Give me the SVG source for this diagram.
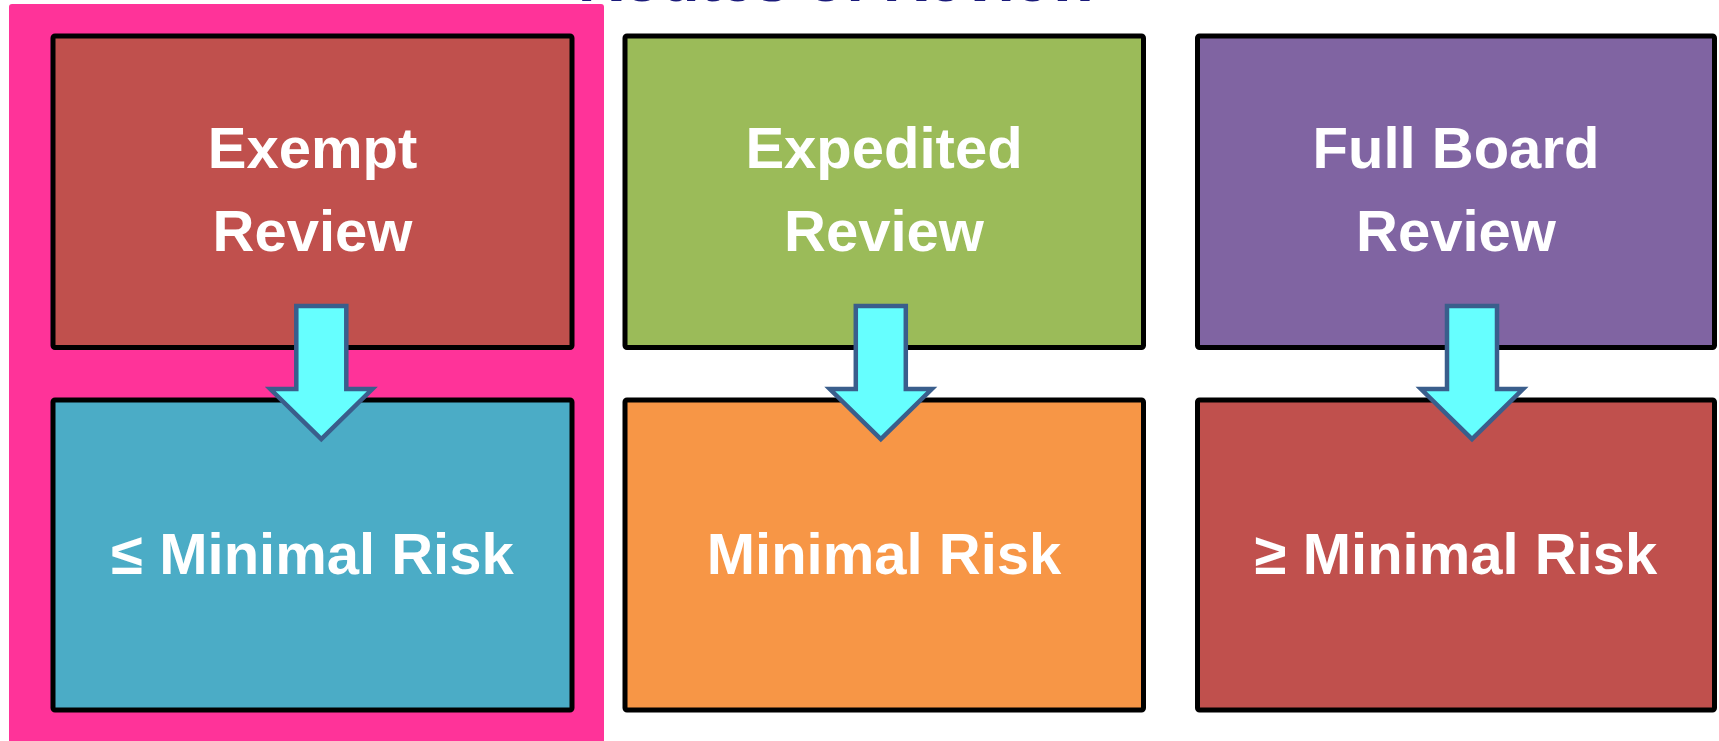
<svg xmlns="http://www.w3.org/2000/svg" width="1719" height="741" viewBox="0 0 1719 741">
  <style>
    .box { stroke: #000000; stroke-width: 5; }
    .lbl { font-family: "Liberation Sans", Arial, sans-serif; font-weight: bold; font-size: 58px; fill: #FFFFFF; text-anchor: middle; }
    .arrow { fill: #66FFFF; stroke: #3A5E8C; stroke-width: 4.5; stroke-linejoin: miter; }
    .title { font-family: "Liberation Sans", Arial, sans-serif; font-weight: bold; font-size: 60px; fill: #1A1A7A; }
  </style>
  <defs>
    <path id="downArrow" d="M -25 306 L 25 306 L 25 389 L 51 389 L 0 439 L -51 389 L -25 389 Z"/>
  </defs>
  <rect width="1719" height="741" fill="#FFFFFF"/>
  <text class="title" x="578" y="1" textLength="520" lengthAdjust="spacingAndGlyphs">Routes of Review</text>

  <g id="highlight">
    <rect x="9" y="4" width="595" height="740" rx="3" fill="#FF3399"/>
  </g>

  <g id="exempt-review">
    <rect class="box" x="53" y="36" width="519" height="311.5" rx="2" fill="#C0504D"/>
    <text class="lbl" x="312.5" y="167.5">Exempt</text>
    <text class="lbl" x="312.5" y="251">Review</text>
  </g>
  <g id="expedited-review">
    <rect class="box" x="625" y="36" width="518.5" height="311.5" rx="2" fill="#9BBB59"/>
    <text class="lbl" x="884" y="167.5">Expedited</text>
    <text class="lbl" x="884" y="251">Review</text>
  </g>
  <g id="full-board-review">
    <rect class="box" x="1197.5" y="36" width="517" height="311.5" rx="2" fill="#8064A2"/>
    <text class="lbl" x="1456" y="167.5">Full Board</text>
    <text class="lbl" x="1456" y="251">Review</text>
  </g>

  <g id="le-minimal-risk">
    <rect class="box" x="53" y="400" width="519" height="310" rx="2" fill="#4BACC6"/>
    <text class="lbl" x="312.5" y="573.5">≤ Minimal Risk</text>
  </g>
  <g id="minimal-risk">
    <rect class="box" x="625" y="400" width="518.5" height="310" rx="2" fill="#F79646"/>
    <text class="lbl" x="884" y="573.5">Minimal Risk</text>
  </g>
  <g id="ge-minimal-risk">
    <rect class="box" x="1197.5" y="400" width="517" height="310" rx="2" fill="#C0504D"/>
    <text class="lbl" x="1456" y="573.5">≥ Minimal Risk</text>
  </g>

  <g id="connectors">
    <use href="#downArrow" class="arrow" transform="translate(321.3 0)"/>
    <use href="#downArrow" class="arrow" transform="translate(880.8 0)"/>
    <use href="#downArrow" class="arrow" transform="translate(1472 0)"/>
  </g>
</svg>
